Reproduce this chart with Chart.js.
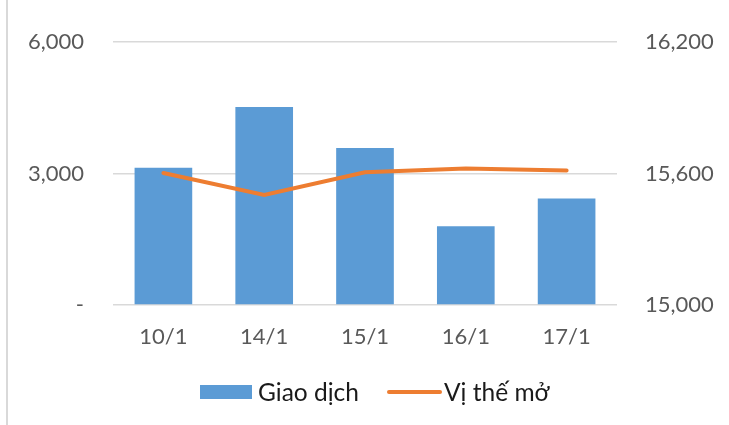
<!DOCTYPE html>
<html>
<head>
<meta charset="utf-8">
<script src="https://cdn.jsdelivr.net/npm/chart.js@4/dist/chart.umd.min.js"></script>
<style>
  html, body { margin: 0; padding: 0; background: #fff; }
  #wrap { position: relative; width: 729px; height: 425px; overflow: hidden; }
  #edge { position: absolute; left: 6px; top: 0; width: 2px; height: 425px; background: #d9d9d9; }
  #chart { position: absolute; left: 0; top: 0; }
  .lg { position: absolute; font-family: Lato, sans-serif; font-size: 24.5px; color: #1a1a1a; line-height: 24px; }
  .sw { position: absolute; }
</style>
</head>
<body>
<div id="wrap">
  <div id="edge"></div>
  <canvas id="chart" width="729" height="425"></canvas>
  <div class="sw" style="left:200px;top:385px;width:52px;height:14px;background:#5b9bd5"></div>
  <div class="lg" style="left:258px;top:380px">Giao dịch</div>
  <div class="sw" style="left:387px;top:390px;width:55px;height:4px;background:#ed7d31;border-radius:2px"></div>
  <div class="lg" style="left:444px;top:380px">Vị thế mở</div>
</div>
<script>
var labels = ['10/1', '14/1', '15/1', '16/1', '17/1'];
var giaoDich = [3136, 4519, 3583, 1798, 2433];
var viTheMo = [15603, 15503, 15606, 15623, 15614];
var leftTicks = [0, 3000, 6000];
var rightTicks = [15000, 15600, 16200];

function fmt(v){
    return v === 0 ? '-' : v.toLocaleString('en-US');
}

var ctx = document.getElementById('chart');
new Chart(ctx, {
    type: 'bar',
    data: {
        labels: labels,
        datasets: [{
            type: 'line',
            label: 'Vị thế mở',
            data: viTheMo,
            yAxisID: 'y2',
            borderColor: '#ed7d31',
            backgroundColor: '#ed7d31',
            borderWidth: 4,
            pointRadius: 0,
            tension: 0,
            borderCapStyle: 'round',
            order: 0
        }, {
            label: 'Giao dịch',
            data: giaoDich,
            yAxisID: 'y',
            backgroundColor: '#5b9bd5',
            barPercentage: 0.572,
            categoryPercentage: 1,
            order: 1
        }]
    },
    options: {
        responsive: false,
        animation: false,
        layout: { padding: { top: 41, bottom: 0, left: 0, right: 0 } },
        plugins: { legend: { display: false }, tooltip: { enabled: false } },
        scales: {
            x: {
                grid: { display: false, drawTicks: false },
                border: { display: false },
                ticks: { color: '#595959', font: { family: 'Lato', size: 22 }, padding: 19 },
                afterFit: function(s){ s.height = 120; }
            },
            y: {
                position: 'left',
                min: leftTicks[0], max: leftTicks[leftTicks.length - 1],
                afterBuildTicks: function(s){ s.ticks = leftTicks.map(function(v){ return {value: v}; }); },
                grid: { color: '#d9d9d9', lineWidth: 1.5, drawTicks: false },
                border: { display: false },
                ticks: { color: '#595959', font: { family: 'Lato', size: 22 }, padding: 29,
                         callback: function(v){ return fmt(v); } },
                afterFit: function(s){ s.width = 113; }
            },
            y2: {
                position: 'right',
                min: rightTicks[0], max: rightTicks[rightTicks.length - 1],
                afterBuildTicks: function(s){ s.ticks = rightTicks.map(function(v){ return {value: v}; }); },
                grid: { display: false, drawTicks: false },
                border: { display: false },
                ticks: { color: '#595959', font: { family: 'Lato', size: 22 }, padding: 28,
                         callback: function(v){ return v.toLocaleString('en-US'); } },
                afterFit: function(s){ s.width = 112; }
            }
        }
    }
});
</script>
</body>
</html>
